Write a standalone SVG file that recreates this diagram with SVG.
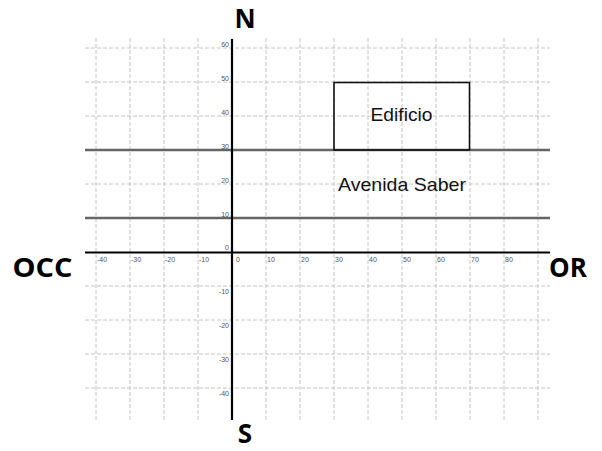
<svg xmlns="http://www.w3.org/2000/svg" width="602" height="451" viewBox="0 0 602 451">
<style>
.grid{stroke:#c4c4c4;stroke-width:1;stroke-dasharray:4 2;fill:none}
.road{stroke:#666;stroke-width:2.4}
.axis{stroke:#000;stroke-width:2.2}
.tick{font-family:"Liberation Sans",Arial,sans-serif;font-size:7px;fill:#555}
.lbl{font-family:"Liberation Sans",Arial,sans-serif;font-size:19px;fill:#111}
.dir{font-family:"Open Sans","Noto Sans",sans-serif;font-weight:bold;font-size:26px;fill:#000}
</style>
<rect width="602" height="451" fill="#fff"/>
<g id="grid">
<path class="grid" d="M96 38V420M130 38V420M164 38V420M198 38V420M266 38V420M300 38V420M334 38V420M368 38V420M402 38V420M436 38V420M470 38V420M504 38V420M538 38V420"/>
<path class="grid" d="M85 48H550M85 82H550M85 116H550M85 184H550M85 286H550M85 320H550M85 354H550M85 388H550"/>
</g>
<g id="roads">
<line class="road" x1="85" y1="150" x2="550" y2="150"/>
<line class="road" x1="85" y1="218" x2="550" y2="218"/>
</g>
<g id="axes">
<line class="axis" x1="85" y1="252.5" x2="550" y2="252.5"/>
<line class="axis" x1="232" y1="39" x2="232" y2="420"/>
</g>
<g id="ticks-x" class="tick">
<text x="97" y="262">-40</text>
<text x="131" y="262">-30</text>
<text x="165" y="262">-20</text>
<text x="199" y="262">-10</text>
<text x="236" y="262">0</text>
<text x="267" y="262">10</text>
<text x="301" y="262">20</text>
<text x="335" y="262">30</text>
<text x="369" y="262">40</text>
<text x="403" y="262">50</text>
<text x="437" y="262">60</text>
<text x="471" y="262">70</text>
<text x="505" y="262">80</text>
</g>
<g id="ticks-y" class="tick" text-anchor="end">
<text x="229" y="47">60</text>
<text x="229" y="81">50</text>
<text x="229" y="115">40</text>
<text x="229" y="149">30</text>
<text x="229" y="183">20</text>
<text x="229" y="217">10</text>
<text x="229" y="250">0</text>
<text x="229" y="294">-10</text>
<text x="229" y="328">-20</text>
<text x="229" y="362">-30</text>
<text x="229" y="396">-40</text>
</g>
<g id="edificio">
<rect x="334" y="82.5" width="135.5" height="67.5" fill="none" stroke="#111" stroke-width="1.6"/>
<text class="lbl" x="401.5" y="121" text-anchor="middle" textLength="62" lengthAdjust="spacingAndGlyphs">Edificio</text>
</g>
<g id="avenida">
<text class="lbl" x="402" y="191" text-anchor="middle" textLength="128" lengthAdjust="spacingAndGlyphs">Avenida Saber</text>
</g>
<g id="N"><text class="dir" x="245" y="28" text-anchor="middle">N</text></g>
<g id="S"><text class="dir" x="245" y="443" text-anchor="middle" font-size="25">S</text></g>
<g id="OCC"><text class="dir" x="42.5" y="277" text-anchor="middle" textLength="60" lengthAdjust="spacingAndGlyphs">OCC</text></g>
<g id="OR"><text class="dir" x="568" y="277" text-anchor="middle" font-size="25">OR</text></g>
</svg>
